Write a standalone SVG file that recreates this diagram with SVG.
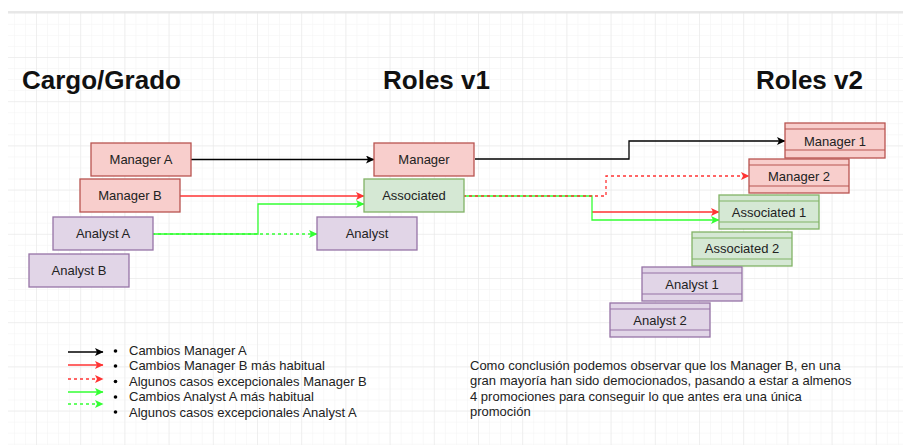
<svg xmlns="http://www.w3.org/2000/svg" width="903" height="445" viewBox="0 0 903 445">
<style>
  text { font-family: "Liberation Sans", Arial, sans-serif; fill: #222; }
  .title { font-size: 26px; font-weight: bold; fill: #111; }
  .lbl { font-size: 13px; text-anchor: middle; dominant-baseline: central; }
  .leg { font-size: 13px; }
  .red { fill: #f8cecc; stroke: #b85450; stroke-width: 1.3; }
  .grn { fill: #d5e8d4; stroke: #82b366; stroke-width: 1.3; }
  .pur { fill: #e1d5e7; stroke: #9673a6; stroke-width: 1.3; }
  .redl { stroke: #b85450; stroke-width: 1.1; }
  .grnl { stroke: #82b366; stroke-width: 1.1; }
  .purl { stroke: #9673a6; stroke-width: 1.1; }
  .c { fill: none; stroke-width: 1.3; }
  .k { stroke: #000; }
  .r { stroke: #ff3333; }
  .g { stroke: #33ff33; }
  .d { stroke-dasharray: 3 3; }
</style>
<defs>
  <pattern id="minor" width="11.05" height="11.05" patternUnits="userSpaceOnUse" x="-8.2" y="12.8">
    <path d="M0,0 H11.05 M0,0 V11.05" fill="none" stroke="#f2f2f2" stroke-width="1"/>
  </pattern>
  <pattern id="major" width="44.2" height="44.2" patternUnits="userSpaceOnUse" x="-8.2" y="12.8">
    <path d="M0,0 H44.2 M0,0 V44.2" fill="none" stroke="#e6e6e6" stroke-width="1"/>
  </pattern>
  <marker id="ak" markerWidth="9" markerHeight="8" refX="8" refY="4" orient="auto" markerUnits="userSpaceOnUse">
    <path d="M0,0 L8.5,4 L0,8 L2,4 z" fill="#000"/>
  </marker>
  <marker id="ar" markerWidth="9" markerHeight="8" refX="8" refY="4" orient="auto" markerUnits="userSpaceOnUse">
    <path d="M0,0 L8.5,4 L0,8 L2,4 z" fill="#ff3333"/>
  </marker>
  <marker id="ag" markerWidth="9" markerHeight="8" refX="8" refY="4" orient="auto" markerUnits="userSpaceOnUse">
    <path d="M0,0 L8.5,4 L0,8 L2,4 z" fill="#33ff33"/>
  </marker>
</defs>
<rect width="903" height="445" fill="#fff"/>
<rect x="8" y="12" width="895" height="433" fill="url(#minor)"/>
<rect x="8" y="12" width="895" height="433" fill="url(#major)"/>
<line x1="8" y1="12" x2="903" y2="12" stroke="#e0e0e0" stroke-width="1.5"/>

<g id="titles">
  <text class="title" x="22" y="89">Cargo/Grado</text>
  <text class="title" x="383" y="89">Roles v1</text>
  <text class="title" x="756" y="89">Roles v2</text>
</g>

<g id="connectors">
  <path class="c k" d="M191,159.5 H374" marker-end="url(#ak)"/>
  <path class="c r" d="M180,196 H364" marker-end="url(#ar)"/>
  <path class="c g d" d="M152,234 H317" marker-end="url(#ag)"/>
  <path class="c g" d="M152,234 H258 V204 H364" marker-end="url(#ag)"/>
  <path class="c k" d="M475,159 H629 V141 H785" marker-end="url(#ak)"/>
  <path class="c r" d="M592,212 H719" marker-end="url(#ar)"/>
  <path class="c g" d="M463,196 H592 V220 H719" marker-end="url(#ag)"/>
  <path class="c r d" d="M463,196 H606 V176 H749" marker-end="url(#ar)"/>
</g>

<g id="manager-a"><rect class="red" x="91" y="143" width="100" height="33"/><text class="lbl" x="141" y="159.5">Manager A</text></g>
<g id="manager-b"><rect class="red" x="80" y="179" width="100" height="33"/><text class="lbl" x="130" y="195.5">Manager B</text></g>
<g id="analyst-a"><rect class="pur" x="53" y="217" width="100" height="33"/><text class="lbl" x="103" y="233.5">Analyst A</text></g>
<g id="analyst-b"><rect class="pur" x="29" y="254" width="100" height="33"/><text class="lbl" x="79" y="270.5">Analyst B</text></g>

<g id="manager"><rect class="red" x="374" y="143" width="100" height="33"/><text class="lbl" x="424" y="159.5">Manager</text></g>
<g id="associated"><rect class="grn" x="364" y="179" width="100" height="33"/><text class="lbl" x="414" y="195.5">Associated</text></g>
<g id="analyst"><rect class="pur" x="317" y="217" width="100" height="33"/><text class="lbl" x="367" y="233.5">Analyst</text></g>

<g id="manager-1"><rect class="red" x="785" y="123" width="100" height="35"/><line class="redl" x1="785" y1="129" x2="885" y2="129"/><line class="redl" x1="785" y1="150" x2="885" y2="150"/><text class="lbl" x="835" y="141">Manager 1</text></g>
<g id="manager-2"><rect class="red" x="749" y="159" width="100" height="34"/><line class="redl" x1="749" y1="165" x2="849" y2="165"/><line class="redl" x1="749" y1="186" x2="849" y2="186"/><text class="lbl" x="799" y="176">Manager 2</text></g>
<g id="associated-1"><rect class="grn" x="719" y="195" width="100" height="34"/><line class="grnl" x1="719" y1="201" x2="819" y2="201"/><line class="grnl" x1="719" y1="222" x2="819" y2="222"/><text class="lbl" x="769" y="212">Associated 1</text></g>
<g id="associated-2"><rect class="grn" x="692" y="232" width="100" height="34"/><line class="grnl" x1="692" y1="238" x2="792" y2="238"/><line class="grnl" x1="692" y1="259" x2="792" y2="259"/><text class="lbl" x="742" y="248">Associated 2</text></g>
<g id="analyst-1"><rect class="pur" x="642" y="267" width="100" height="34"/><line class="purl" x1="642" y1="273" x2="742" y2="273"/><line class="purl" x1="642" y1="294" x2="742" y2="294"/><text class="lbl" x="692" y="284">Analyst 1</text></g>
<g id="analyst-2"><rect class="pur" x="610" y="303" width="100" height="34"/><line class="purl" x1="610" y1="309" x2="710" y2="309"/><line class="purl" x1="610" y1="330" x2="710" y2="330"/><text class="lbl" x="660" y="320">Analyst 2</text></g>

<g id="legend">
  <path class="c k" d="M68,352 H103" marker-end="url(#ak)"/>
  <path class="c r" d="M68,365 H103" marker-end="url(#ar)"/>
  <path class="c r d" d="M68,379 H103" marker-end="url(#ar)"/>
  <path class="c g" d="M68,392 H103" marker-end="url(#ag)"/>
  <path class="c g d" d="M68,404 H103" marker-end="url(#ag)"/>
  <g fill="#000">
    <circle cx="115.5" cy="351" r="1.8"/>
    <circle cx="115.5" cy="366" r="1.8"/>
    <circle cx="115.5" cy="381.5" r="1.8"/>
    <circle cx="115.5" cy="397" r="1.8"/>
    <circle cx="115.5" cy="412" r="1.8"/>
  </g>
  <text class="leg" x="129" y="354.5">Cambios Manager A</text>
  <text class="leg" x="129" y="370">Cambios Manager B más habitual</text>
  <text class="leg" x="129" y="385.5">Algunos casos excepcionales Manager B</text>
  <text class="leg" x="129" y="401">Cambios Analyst A más habitual</text>
  <text class="leg" x="129" y="416.5">Algunos casos excepcionales Analyst A</text>
</g>

<g id="conclusion">
  <text class="leg" x="470" y="369.5">Como conclusión podemos observar que los Manager B, en una</text>
  <text class="leg" x="470" y="385">gran mayoría han sido democionados, pasando a estar a almenos</text>
  <text class="leg" x="470" y="400.5">4 promociones para conseguir lo que antes era una única</text>
  <text class="leg" x="470" y="416">promoción</text>
</g>
</svg>
